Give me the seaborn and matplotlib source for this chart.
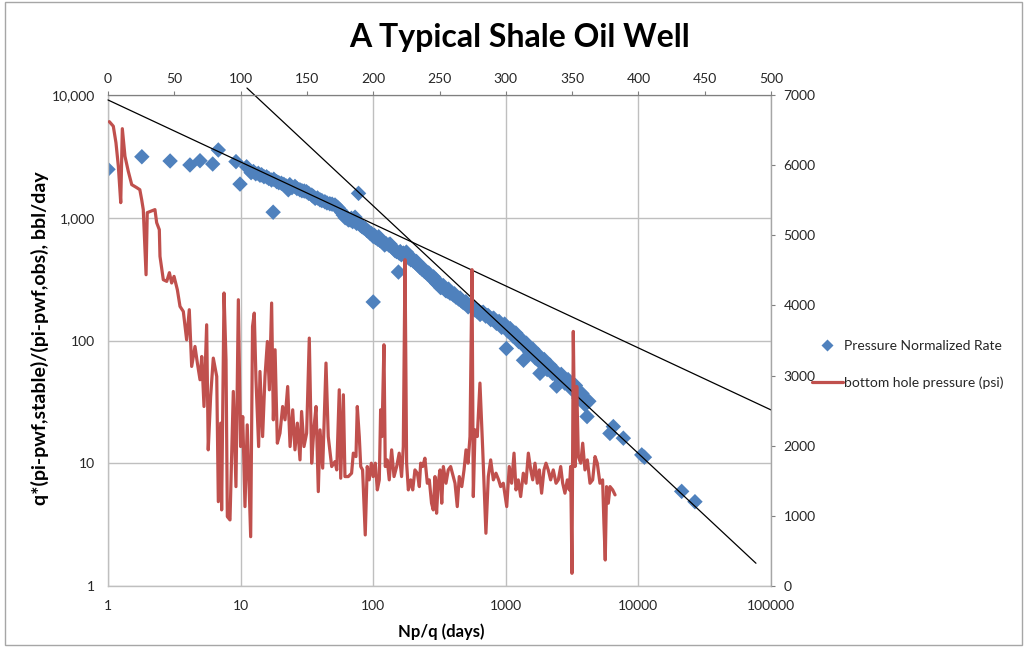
import matplotlib
matplotlib.use("Agg")
import matplotlib.pyplot as plt
import numpy as np
import pandas as pd
import seaborn as sns
from matplotlib.lines import Line2D
from matplotlib.patches import Rectangle
from matplotlib.ticker import FixedLocator, FixedFormatter, NullLocator

# ---------------- data ----------------
# pressure-normalized rate vs material balance time (Np/q, days), bbl/day
early_pts = [
    (1.0, 2480), (1.8, 3140), (2.94, 2900), (4.15, 2690), (4.94, 2915),
    (6.16, 2740), (6.79, 3565), (9.23, 2865), (9.9, 1880), (11.1, 2600),
]
linear_flow_pts = [
    (12.0, 2330), (12.5, 2380), (13.0, 2280), (13.6, 2300), (14.0, 2220),
    (14.4, 2240), (15.0, 2160), (15.7, 2155), (16.3, 2090), (17.1, 2030),
    (17.6, 1110), (17.8, 2060), (18.7, 1970), (19.4, 1930), (20.3, 1910),
    (21.2, 1870), (22.0, 1820), (22.9, 1690), (23.5, 1860), (24.4, 1760),
    (25.7, 1800), (26.6, 1730), (28.0, 1690), (29.0, 1660), (30.2, 1650),
    (31.4, 1630), (32.6, 1580), (34.4, 1530), (35.4, 1490), (36.5, 1440),
    (38.0, 1450), (39.7, 1400), (41.0, 1380), (43.2, 1350), (44.8, 1320),
    (47.1, 1300), (49.0, 1290), (51.5, 1270), (53.0, 1230), (54.5, 1200),
    (56.5, 1150), (58.0, 1100), (59.5, 1052), (61.5, 1000), (63.0, 1020),
    (65.0, 960), (67.0, 960), (68.5, 990), (70.0, 930), (71.5, 980),
    (73.0, 1010), (75.0, 900), (77.5, 1580), (77.5, 905), (80.0, 870),
    (82.0, 850), (84.5, 830), (87.0, 820), (89.5, 790), (92.0, 775),
    (94.5, 750), (97.0, 745), (100.0, 206), (100.0, 705), (102.0, 720),
]
transition_pts = [
    (104, 690), (108, 670), (110, 700), (112, 655), (116, 640), (120, 625),
    (122, 600), (125, 615), (131, 600), (134, 610), (138, 580), (144, 555),
    (146, 540), (150, 530), (155, 361), (157, 515), (160, 530), (163, 500),
    (169, 515), (174, 490), (178, 525), (182, 500), (185, 470), (192, 455),
    (196, 470), (200, 445), (208, 430), (212, 440), (216, 415), (225, 395),
    (228, 400), (234, 380), (240, 385), (244, 365), (250, 360), (255, 350),
    (262, 355), (266, 338), (272, 330), (278, 325), (285, 330), (290, 305),
    (296, 315), (301, 292), (310, 290), (315, 282), (322, 270), (330, 272),
    (338, 280), (345, 262), (352, 255), (362, 252), (370, 262), (380, 243),
    (390, 245), (402, 235), (410, 240), (420, 226), (430, 225), (440, 218),
    (452, 222), (462, 210), (475, 205), (486, 202), (500, 207), (510, 198),
    (520, 188), (537, 192), (550, 195), (565, 185), (580, 178), (595, 179),
    (610, 172), (625, 174), (640, 163), (660, 168), (675, 170), (690, 164),
]
boundary_flow_pts = [
    (705, 158), (718, 160), (735, 160), (750, 155), (770, 148), (790, 150),
    (810, 152), (830, 145), (850, 138), (870, 141), (890, 143), (910, 136),
    (930, 128), (958, 131), (980, 136), (1000, 127), (1010, 86), (1030, 120),
    (1050, 122), (1080, 125), (1100, 117), (1130, 109), (1160, 112),
    (1190, 115), (1220, 106), (1250, 98), (1280, 101), (1310, 103),
    (1340, 96), (1360, 69), (1370, 90), (1400, 92), (1430, 95), (1480, 87),
    (1520, 80), (1560, 82), (1600, 85), (1630, 78), (1670, 72), (1710, 74),
    (1750, 77), (1800, 70), (1810, 54), (1850, 65), (1900, 67), (1950, 70),
    (2000, 63), (2050, 58), (2100, 61), (2150, 63), (2200, 59), (2250, 54),
    (2280, 57.5), (2350, 57), (2400, 54), (2420, 42.5), (2480, 50),
    (2550, 51), (2620, 53), (2700, 48.5), (2780, 45), (2870, 46),
    (2950, 48), (3050, 44.5), (3150, 40), (3250, 41), (3350, 43),
    (3450, 38), (3550, 34), (3650, 35), (3750, 37), (3860, 33), (3960, 30),
    (4075, 31), (4100, 24), (4230, 32),
]
late_pts = [
    (6100, 17.5), (6470, 19.9), (7700, 16.0), (10600, 11.7), (11100, 11.2),
    (21200, 5.9), (26700, 4.86),
]

# bottom hole pressure history (day, psi)
bhp_readings = [
    (1, 6620), (4, 6555), (6, 6320), (7.8, 5985), (9.6, 5465), (10.8, 6520),
    (12.8, 6126), (15.3, 5912), (17.9, 5722), (21.6, 5680), (24, 5650),
    (25.4, 5508), (26.6, 5366), (28.7, 4438), (29.6, 5323), (35.4, 5366),
    (36.7, 5180), (38.7, 5080), (39.2, 4700), (41.7, 4367), (44.3, 4343),
    (46.3, 4467), (48, 4320), (49.8, 4414), (52.3, 4224), (54.3, 3986),
    (56.8, 3914), (59.3, 3510), (61.3, 3939), (63.1, 3130), (65.6, 3415),
    (67.4, 3178), (69.4, 2940), (70.7, 3272), (72.4, 2559), (74.4, 3724),
    (75.6, 1941), (77.4, 2701), (79.4, 3249), (82, 2987), (83.2, 1203),
    (85, 2322), (85.7, 1085), (87.5, 4177), (89, 3225), (90, 989),
    (92, 942), (94.5, 2773), (96.5, 1417), (98.3, 4081), (100, 1988),
    (101.6, 2416), (103.3, 1132), (105, 2297), (107.6, 703), (109, 3700),
    (110.3, 3891), (111.6, 2940), (113.6, 1988), (114.6, 3058), (116.6, 2130),
    (118.4, 2987), (120.2, 3486), (121.7, 2797), (123.4, 4034), (124.7, 2369),
    (126, 3368), (127.7, 2036), (129.7, 2179), (131.7, 2559), (133.5, 2369),
    (135.5, 2844), (137.3, 1988), (139.3, 2512), (141, 1941), (142.8, 2322),
    (144.8, 1798), (146, 2488), (147.8, 1988), (149.8, 2179), (151.8, 3534),
    (153.6, 1751), (155.4, 2274), (156.9, 2559), (158.6, 1346), (159.9, 2226),
    (161.9, 1680), (164.4, 3178), (166.1, 2130), (168.7, 1703), (171.2, 1774),
    (172.5, 1655), (174.4, 2797), (175.5, 1537), (177.5, 2726), (178.7, 1560),
    (181.2, 1560), (183.7, 1608), (185, 1894), (187, 1845), (188, 2559),
    (189.5, 2131), (190.6, 1703), (192, 1655), (194, 728), (195.5, 1703),
    (197, 1513), (198.6, 1751), (200, 1560), (201.6, 1751), (203.1, 1370),
    (204.6, 1513), (205.6, 2512), (206.6, 2131), (208.1, 3439), (209.1, 1703),
    (210.6, 1798), (212.1, 1513), (213.9, 1941), (215.7, 1560), (217.7, 1703),
    (219.6, 1894), (221.4, 1560), (222.7, 1988), (224, 4652), (225.2, 1751),
    (226.5, 1370), (228.3, 1513), (229.8, 1370), (231.5, 1655), (233.3, 1608),
    (234.8, 1417), (235.8, 1751), (237.3, 1703), (239, 1822), (240.8, 1465),
    (242.3, 1513), (244, 1180), (245.3, 1085), (246.6, 1560), (247.8, 1037),
    (249, 1465), (250.4, 1655), (251.7, 1180), (252.9, 1703), (254.9, 1465),
    (256.6, 1655), (258.4, 1703), (260.4, 1560), (261.7, 1465), (263.4, 1132),
    (264.9, 1560), (266.8, 1417), (268.5, 1655), (270, 1941), (271.5, 1751),
    (273, 2131), (274.5, 4510), (275.5, 1275), (276.8, 2226), (278.5, 2131),
    (280.5, 2893), (282.6, 1941), (285, 752), (286.8, 1560), (288.6, 1798),
    (290.6, 1513), (292.6, 1608), (294.6, 1513), (296.1, 1417), (298.1, 1465),
    (300.7, 1132), (302.6, 1703), (304.4, 1465), (306.2, 1894), (307.7, 1370),
    (309.4, 1513), (311.2, 1275), (313.2, 1608), (315.2, 1465), (317, 1894),
    (318.8, 1655), (320.3, 1513), (322, 1751), (323.8, 1465), (325.3, 1655),
    (327, 1323), (328.8, 1655), (330.3, 1751), (332, 1655), (333.8, 1513),
    (335.8, 1655), (337.9, 1465), (339.6, 1513), (341.4, 1703), (342.9, 1465),
    (344.6, 1323), (346.4, 1513), (347.9, 1370), (348.9, 1703), (349.9, 181),
    (350.9, 3629), (352.2, 1703), (353.5, 2844), (354.7, 1845), (356.5, 1751),
    (358, 2036), (359.7, 1655), (361.5, 1798), (363.5, 1465), (365.5, 1513),
    (367.3, 1845), (369, 1751), (371, 1465), (373, 1513), (374, 895),
    (375, 371), (376, 1417), (377.3, 1180), (378.6, 1417), (380.6, 1370),
    (382.4, 1299),
]

# power-law fits q = a * t^b and the Np/q span each is drawn over
half_slope_fit = [9110, -0.505]
unit_slope_fit = [1.3e5, -1.0086]
half_slope_span = [1, 100000]
unit_slope_span = [11.17, 77000]

# axis ticks
npq_ticks = [1, 10, 100, 1000, 10000, 100000]
npq_tick_labels = ["1", "10", "100", "1000", "10000", "100000"]
rate_ticks = [1, 10, 100, 1000, 10000]
rate_tick_labels = ["1", "10", "100", "1,000", "10,000"]
day_ticks = [0, 50, 100, 150, 200, 250, 300, 350, 400, 450, 500]
psi_ticks = [0, 1000, 2000, 3000, 4000, 5000, 6000, 7000]

# ---------------- styling ----------------
BLUE = "#4F81BD"
RED = "#C0504D"
GRID = "#BFBFBF"
TEXT = "#262626"

sns.set_theme(style="white")
plt.rcParams["font.family"] = ["Lato", "DejaVu Sans"]

W, H = 1027, 647
fig = plt.figure(figsize=(W / 100, H / 100), dpi=100)
fig.patch.set_facecolor("white")

px_l, px_r, px_t, px_b = 108, 771, 95, 586
pos = [px_l / W, 1 - px_b / H, (px_r - px_l) / W, (px_b - px_t) / H]

ax = fig.add_axes(pos)
ax2 = fig.add_axes(pos, label="bhp")
ax2.patch.set_visible(False)

# --- primary axes: rate vs Np/q on log-log ---
rate_df = pd.DataFrame(
    early_pts + linear_flow_pts + transition_pts + boundary_flow_pts + late_pts,
    columns=["npq", "rate"],
)
sns.scatterplot(data=rate_df, x="npq", y="rate", ax=ax, marker="D", s=62,
                color=BLUE, edgecolor="none", linewidth=0, zorder=2,
                legend=False)

for (a, b), span in ((half_slope_fit, half_slope_span),
                     (unit_slope_fit, unit_slope_span)):
    t = np.array(span, dtype=float)
    fit_df = pd.DataFrame({"npq": t, "rate": a * t ** b})
    sns.lineplot(data=fit_df, x="npq", y="rate", ax=ax, color="black",
                 linewidth=0.9, zorder=3, clip_on=False, legend=False,
                 estimator=None)

ax.set_xscale("log")
ax.set_yscale("log")
ax.set_xlim(1, 100000)
ax.set_ylim(1, 10000)
ax.xaxis.set_major_locator(FixedLocator(npq_ticks))
ax.xaxis.set_major_formatter(FixedFormatter(npq_tick_labels))
ax.yaxis.set_major_locator(FixedLocator(rate_ticks))
ax.yaxis.set_major_formatter(FixedFormatter(rate_tick_labels))
ax.xaxis.set_minor_locator(NullLocator())
ax.yaxis.set_minor_locator(NullLocator())
ax.grid(True, which="major", color=GRID, linewidth=1.0)
ax.set_axisbelow(True)
ax.set_xlabel("")
ax.set_ylabel("")
ax.tick_params(axis="both", length=0, labelsize=10, colors=TEXT)
ax.tick_params(axis="y", pad=9.5)
ax.tick_params(axis="x", pad=10)
for side in ("top", "right"):
    ax.spines[side].set_visible(False)
for side in ("left", "bottom"):
    ax.spines[side].set_color(GRID)
    ax.spines[side].set_linewidth(1.0)

# --- secondary axes: bottom hole pressure vs days ---
bhp_df = pd.DataFrame(bhp_readings, columns=["day", "psi"])
sns.lineplot(data=bhp_df, x="day", y="psi", ax=ax2, color=RED,
             linewidth=2.3, estimator=None, sort=False, legend=False)
ax2.set_xlim(0, 500)
ax2.set_ylim(0, 7000)
ax2.xaxis.set_major_locator(FixedLocator(day_ticks))
ax2.yaxis.set_major_locator(FixedLocator(psi_ticks))
ax2.xaxis.tick_top()
ax2.yaxis.tick_right()
ax2.set_xlabel("")
ax2.set_ylabel("")
ax2.grid(False)
ax2.tick_params(axis="both", direction="out", length=3, width=0.8,
                color="#7F7F7F", labelsize=10, colors=TEXT)
ax2.tick_params(axis="x", pad=4, color="#7F7F7F")
ax2.tick_params(axis="y", pad=6, color="#7F7F7F")
for side in ("left", "bottom"):
    ax2.spines[side].set_visible(False)
ax2.spines["top"].set_color("#7F7F7F")
ax2.spines["top"].set_linewidth(0.9)
ax2.spines["right"].set_color("#A6A6A6")
ax2.spines["right"].set_linewidth(1.0)

# --- text ---
fig.text(520 / W, 1 - 38 / H, "A Typical Shale Oil Well", ha="center",
         va="center", fontsize=23, fontweight="bold", color="black")
fig.text(40 / W, 1 - 338 / H, "q*(pi-pwf,stable)/(pi-pwf,obs), bbl/day",
         rotation=90, ha="center", va="center", fontsize=14,
         fontweight="bold", color="black")
fig.text(441 / W, 1 - 632 / H, "Np/q (days)", ha="center", va="center",
         fontsize=12, fontweight="bold", color="black")

# --- legend ---
handles = [
    Line2D([], [], linestyle="none", marker="D", markersize=6,
           markerfacecolor=BLUE, markeredgecolor="none"),
    Line2D([], [], color=RED, linewidth=2.3),
]
fig.legend(handles, ["Pressure Normalized Rate", "bottom hole pressure (psi)"],
           loc="upper left", bbox_to_anchor=(812 / W, 1 - 340 / H),
           frameon=False, fontsize=10, handlelength=2.2, handletextpad=0.1,
           labelspacing=1.75, borderpad=0, borderaxespad=0,
           labelcolor=TEXT)

# chart border
fig.patches.append(Rectangle((5 / W, 2 / H), (1022 - 5) / W, (645 - 2) / H,
                             transform=fig.transFigure, fill=False,
                             edgecolor="#A6A6A6", linewidth=1.0))

fig.savefig("out.png", dpi=100)
